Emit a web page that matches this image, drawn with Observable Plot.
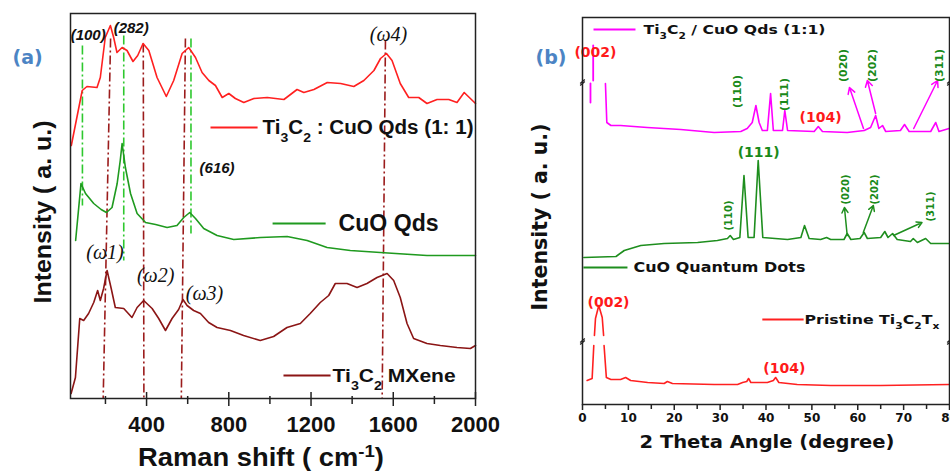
<!DOCTYPE html>
<html><head><meta charset="utf-8">
<script src="https://cdn.jsdelivr.net/npm/d3@7"></script>
<script src="https://cdn.jsdelivr.net/npm/@observablehq/plot@0.6"></script>
<style>
html,body{margin:0;padding:0;background:#fff;}
body{width:950px;height:473px;overflow:hidden;position:relative;}
#a{position:absolute;left:0;top:0;}
#b{position:absolute;left:480px;top:0;}
#a svg{overflow:visible;}
</style></head>
<body><div id="a"></div><div id="b"></div>
<script>
// ================= Panel (a): Raman spectra =================
const ramanTicksMajor = [400, 800, 1200, 1600, 2000];
const ramanTicksMinor = [200, 600, 1000, 1400, 1800];
// [Raman shift (cm-1), intensity (a.u., offset)]
const ramanComposite = [[34,253],[87,308],[110,312],[159,311],[175,321],[199,361],[224,373],[240,361],[256,346],[281,351],[305,348],[334,337],[357,343],[383,355],[411,348],[451,321],[496,302],[532,318],[573,345],[605,351],[638,341],[670,326],[703,318],[735,313],[768,301],[800,305],[832,300],[873,296],[922,300],[987,301],[1068,299],[1132,309],[1165,306],[1214,309],[1279,316],[1344,315],[1408,312],[1457,318],[1506,328],[1538,340],[1567,345],[1594,338],[1634,315],[1675,301],[1724,301],[1764,295],[1813,299],[1870,299],[1910,296],[1945,306],[1975,300],[2000,295]];
const ramanCuO = [[55,158],[81,215],[103,205],[143,195],[179,189],[205,186],[232,191],[257,215],[272,238],[281,255],[297,231],[322,205],[354,185],[395,176],[444,174],[500,171],[548,173],[581,181],[610,186],[638,180],[678,170],[743,163],[824,159],[954,161],[1084,162],[1181,158],[1278,151],[1391,148],[1537,146],[1764,143],[2000,143]];
const ramanTi3C2 = [[33,5],[54,21],[75,80],[94,78],[118,85],[143,96],[162,108],[175,98],[191,110],[208,128],[228,110],[248,91],[289,90],[329,81],[354,91],[386,98],[427,90],[459,80],[492,68],[524,80],[556,89],[577,99],[597,93],[629,88],[662,85],[702,76],[743,71],[808,68],[872,63],[953,58],[1018,62],[1083,71],[1148,75],[1196,85],[1245,96],[1286,103],[1318,115],[1375,115],[1424,111],[1472,115],[1521,121],[1570,125],[1602,118],[1634,101],[1667,75],[1699,60],[1764,55],[1829,53],[1910,51],[1975,50],[2000,53]];
// guide lines [x top, y top, x bottom, y bottom]
const guidesCuO = [[88,353,88,193],[289,363,289,138],[616,360,616,165]];
const guidesTi3C2 = [[225,360,189,0],[384,355,387,0],[589,360,569,0],[1562,358,1546,0]];
const peakLabelsA = [{text:"(100)",x:116,y:363},{text:"(282)",x:325,y:370},{text:"(616)",x:743,y:230}];
const modeLabelsA = [{text:"(ω1)",x:198,y:146},{text:"(ω2)",x:444,y:123},{text:"(ω3)",x:682,y:105},{text:"(ω4)",x:1577,y:364}];
const legendA = [
  {label:"Ti_3C_2 : CuO Qds (1: 1)", color:"#ff2020", x1:711, x2:940, y:271, tx:964, size:19.5},
  {label:"CuO Qds", color:"#1f9a1f", x1:1013, x2:1271, y:175, tx:1334, size:23},
  {label:"Ti_3C_2 MXene", color:"#8b1515", x1:1066, x2:1295, y:23, tx:1305, size:19}
];

// ================= Panel (b): XRD patterns =================
const xrdTicksMajor = [0,10,20,30,40,50,60,70,80];
const xrdTicksMinor = [5,15,25,35,45,55,65,75];
// [2 theta (deg), intensity (a.u., offset)]
const xrdComposite = [[5.0,321],[5.3,282],[6.2,279],[8.3,279],[14.1,277],[21.4,275],[28.7,272],[34.5,273],[35.9,276],[37.0,282],[37.8,299],[38.5,282],[39.2,274],[40.3,274],[41.0,311],[41.6,274],[43.6,274],[44.1,294],[44.7,274],[50.5,273],[51.4,278],[52.3,273],[57.7,272],[61.4,274],[62.8,277],[63.9,289],[64.6,276],[65.4,279],[66.1,273],[69.3,274],[70.2,280],[71.2,273],[75.9,273],[77.0,282],[77.7,273],[79.9,276]];
const xrdCompositeBrokenLow = [[1.74,321],[1.74,302]];
const xrdCompositeBrokenHigh = [[2.33,359],[2.33,324]];
const xrdCuO = [[0.3,147],[7.3,148],[9.1,154],[12.7,159],[17.8,161],[25.1,162],[29.4,164],[31.6,166],[32.2,169],[32.9,165],[34.3,167],[35.2,229],[36.1,167],[37.4,167],[38.3,244],[39.3,167],[44.7,165],[47.6,167],[48.4,179],[49.4,166],[51.9,165],[53.2,167],[54.1,165],[57.0,165],[57.7,171],[58.5,165],[60.5,166],[61.4,172],[62.1,166],[65.0,167],[65.9,173],[66.6,167],[67.6,171],[68.6,165],[71.5,163],[72.1,166],[73.0,162],[74.8,166],[75.9,161],[79.9,161]];
const xrdTi3C2Low = [[1.0,24],[2.1,26],[2.46,59]];
const xrdTi3C2Peak = [[2.6,69],[2.83,86],[3.55,99],[4.3,87],[4.6,69]];
const xrdTi3C2Rest = [[4.7,59],[5.2,27],[6.2,25],[8.3,25],[9.4,27],[10.5,24],[14.2,22],[17.8,21],[18.5,23],[19.6,21],[28.7,20],[33.8,20],[34.9,22],[35.8,23],[36.2,26],[36.7,22],[40.3,22],[41.6,24],[42.1,27],[42.8,22],[46.8,20],[54.1,19],[65.0,19],[79.9,20]];
const axisBreaksB = [322, 63];
const axisBreakSides = [0, 80];
const hklCompositeRot = [{text:"(110)",x:33.8,y:313},{text:"(111)",x:44.0,y:310},{text:"(020)",x:56.9,y:339},{text:"(202)",x:63.2,y:339},{text:"(311)",x:77.8,y:339}];
const hklCuORot = [{text:"(110)",x:31.8,y:189},{text:"(020)",x:57.3,y:215},{text:"(202)",x:63.7,y:215},{text:"(311)",x:75.9,y:198}];
const arrowsComposite = [[61.25,276,58.2,317],[63.9,291,62.1,324],[72.2,276,77.4,324]];
const arrowsCuO = [[57.7,169,57.1,197],[61.2,172,63.4,199],[67.8,169,74.0,182]];
const redLabelsB = [{text:"(002)",x:2.83,y:352,anchor:"start"},{text:"(104)",x:51.9,y:287,anchor:"middle"},{text:"(002)",x:5.67,y:102,anchor:"start"},{text:"(104)",x:44.0,y:36,anchor:"middle"}];
const legendB = [
  {label:"Ti_3C_2 / CuO Qds (1:1)", color:"#ff00ff", x1:2.4, x2:11.55, y:375, tx:13.3, size:13},
  {label:"CuO Quantum Dots", color:"#1e8e1e", x1:0.2, x2:9.8, y:137, tx:11.1, size:14.5},
  {label:"Pristine Ti_3C_2T_x", color:"#ff2020", x1:39.2, x2:48.2, y:85, tx:48.4, size:13}
];

// ---------------- helpers ----------------
const fA = "'Liberation Sans', Arial, sans-serif";
const fB = "'DejaVu Sans', Verdana, sans-serif";
const fSerif = "'Liberation Serif', 'Times New Roman', serif";
const X = d => d[0], Y = d => d[1];

function richText(svg, fit) {
  svg.querySelectorAll("text").forEach(t => {
    if (t.querySelector("tspan")) return;
    const s = t.textContent;
    if (/[_^]/.test(s)) {
      while (t.firstChild) t.removeChild(t.firstChild);
      const re = /([_^])(\{[^}]*\}|.)/g;
      let last = 0, m;
      const add = (txt, mode) => {
        const ts = document.createElementNS("http://www.w3.org/2000/svg", "tspan");
        ts.textContent = txt;
        if (mode) {
          ts.setAttribute("baseline-shift", mode === "_" ? "sub" : "super");
          ts.style.fontSize = "68%";
        }
        t.appendChild(ts);
      };
      while ((m = re.exec(s))) {
        if (m.index > last) add(s.slice(last, m.index));
        let v = m[2]; if (v[0] === "{") v = v.slice(1, -1);
        add(v, m[1]);
        last = re.lastIndex;
      }
      if (last < s.length) add(s.slice(last));
    }
    if (fit[s]) {
      t.setAttribute("textLength", fit[s]);
      t.setAttribute("lengthAdjust", "spacingAndGlyphs");
    }
  });
}

// ---------------- Panel (a) ----------------
const plotA = Plot.plot({
  width: 480, height: 473,
  marginLeft: 70, marginRight: 5, marginTop: 13, marginBottom: 75,
  x: {domain: [30, 2000]},
  y: {domain: [0, 385], axis: null},
  style: {fontFamily: fA, fontWeight: "bold", background: "transparent", color: "#111"},
  marks: [
    Plot.link(guidesCuO, {x1: d=>d[0], y1: d=>d[1], x2: d=>d[2], y2: d=>d[3], stroke: "#2ec82e", strokeWidth: 1.6, strokeDasharray: "9,3,2,3"}),
    Plot.link(guidesTi3C2, {x1: d=>d[0], y1: d=>d[1], x2: d=>d[2], y2: d=>d[3], stroke: "#9b1c1c", strokeWidth: 1.6, strokeDasharray: "9,3,2,3"}),
    Plot.line(ramanTi3C2, {x: X, y: Y, stroke: "#8b1515", strokeWidth: 1.6}),
    Plot.line(ramanCuO, {x: X, y: Y, stroke: "#1f9a1f", strokeWidth: 1.6}),
    Plot.line(ramanComposite, {x: X, y: Y, stroke: "#ff2020", strokeWidth: 1.6}),
    Plot.text(peakLabelsA, {x: "x", y: "y", text: "text", fontSize: 15, fontStyle: "italic", fill: "#111"}),
    Plot.text(modeLabelsA, {x: "x", y: "y", text: "text", fontSize: 20, fontStyle: "italic", fontWeight: "normal", fontFamily: fSerif, fill: "#111"}),
    Plot.link(legendA, {x1: "x1", x2: "x2", y1: "y", y2: "y", stroke: "color", strokeWidth: 1.8}),
    Plot.text(legendA, {x: "tx", y: "y", text: "label", textAnchor: "start", fontSize: d => d.size, fill: "#111"}),
    Plot.frame({stroke: "#222", strokeWidth: 1.5}),
    Plot.ruleX(ramanTicksMajor, {x: d => d, y1: -8, y2: 6, stroke: "#222", strokeWidth: 1.5}),
    Plot.ruleX(ramanTicksMinor, {x: d => d, y1: -6, y2: 2, stroke: "#222", strokeWidth: 1.5}),
    Plot.axisX({ticks: ramanTicksMajor, tickSize: 0, tickPadding: 18, tickFormat: d => String(d), fontSize: 22, label: null}),
    Plot.text(["Raman shift ( cm^{-1})"], {frameAnchor: "bottom", dx: -12, dy: 67, text: d => d, fontSize: 25, fill: "#111"}),
    Plot.text(["Intensity ( a. u.)"], {frameAnchor: "left", textAnchor: "middle", rotate: -90, dx: -27, dy: 6, text: d => d, fontSize: 23, fill: "#111"}),
    Plot.text(["(a)"], {frameAnchor: "top-left", dx: -58, dy: 37, text: d => d, fontSize: 19, fill: "#4c84c4", fontFamily: fB})
  ]
});
richText(plotA, {"Ti_3C_2 : CuO Qds (1: 1)": 211, "CuO Qds": 100, "Ti_3C_2 MXene": 123, "Raman shift ( cm^{-1})": 246, "Intensity ( a. u.)": 183});
document.getElementById("a").appendChild(plotA);

// ---------------- Panel (b) ----------------
const breakMarks = axisBreakSides.flatMap(x => axisBreaksB.map(y => ({x, y})));
const plotB = Plot.plot({
  width: 470, height: 473,
  marginLeft: 102, marginRight: 1, marginTop: 17, marginBottom: 69,
  x: {domain: [0, 80]},
  y: {domain: [0, 387], axis: null},
  style: {fontFamily: fB, fontWeight: "bold", background: "transparent", color: "#111"},
  marks: [
    Plot.line(xrdTi3C2Low, {x: X, y: Y, stroke: "#ff2020", strokeWidth: 1.6}),
    Plot.line(xrdTi3C2Peak, {x: X, y: Y, stroke: "#ff2020", strokeWidth: 1.6}),
    Plot.line(xrdTi3C2Rest, {x: X, y: Y, stroke: "#ff2020", strokeWidth: 1.6}),
    Plot.line(xrdCuO, {x: X, y: Y, stroke: "#1e8e1e", strokeWidth: 1.6}),
    Plot.line(xrdCompositeBrokenLow, {x: X, y: Y, stroke: "#ff00ff", strokeWidth: 1.8}),
    Plot.line(xrdCompositeBrokenHigh, {x: X, y: Y, stroke: "#ff00ff", strokeWidth: 1.8}),
    Plot.line(xrdComposite, {x: X, y: Y, stroke: "#ff00ff", strokeWidth: 1.6}),
    Plot.arrow(arrowsComposite, {x1: d=>d[0], y1: d=>d[1], x2: d=>d[2], y2: d=>d[3], stroke: "#ff00ff", strokeWidth: 1.5, headLength: 7}),
    Plot.arrow(arrowsCuO, {x1: d=>d[0], y1: d=>d[1], x2: d=>d[2], y2: d=>d[3], stroke: "#1e8e1e", strokeWidth: 1.5, headLength: 6}),
    Plot.text(hklCompositeRot, {x: "x", y: "y", text: "text", rotate: -90, fontSize: 11, fill: "#1a8a1a"}),
    Plot.text(hklCuORot, {x: "x", y: "y", text: "text", rotate: -90, fontSize: 10, fill: "#1a8a1a"}),
    Plot.text(["(111)"], {x: 38.4, y: 252, text: d => d, fontSize: 14, fill: "#1a8a1a"}),
    Plot.text(redLabelsB, {x: "x", y: "y", text: "text", textAnchor: "anchor", fontSize: 14, fill: "#ff1a1a"}),
    Plot.link(legendB, {x1: "x1", x2: "x2", y1: "y", y2: "y", stroke: "color", strokeWidth: 1.8}),
    Plot.text(legendB, {x: "tx", y: "y", text: "label", textAnchor: "start", fontSize: d => d.size, fill: "#111"}),
    Plot.frame({stroke: "#222", strokeWidth: 1.5}),
    Plot.link(breakMarks, {x1: d => d.x - 0.5, x2: d => d.x + 0.5, y1: d => d.y - 3, y2: d => d.y + 1, stroke: "#222", strokeWidth: 1.3}),
    Plot.link(breakMarks, {x1: d => d.x - 0.5, x2: d => d.x + 0.5, y1: d => d.y - 1, y2: d => d.y + 3, stroke: "#222", strokeWidth: 1.3}),
    Plot.ruleX(xrdTicksMajor, {x: d => d, y1: -6, y2: 0, stroke: "#222", strokeWidth: 1.5}),
    Plot.ruleX(xrdTicksMinor, {x: d => d, y1: -5, y2: 0, stroke: "#222", strokeWidth: 1.5}),
    Plot.axisX({ticks: xrdTicksMajor, tickSize: 0, tickPadding: 9, tickFormat: d => String(d), fontSize: 12, label: null}),
    Plot.text(["2 Theta Angle (degree)"], {frameAnchor: "bottom", dx: 1, dy: 43, text: d => d, fontSize: 18, fill: "#111"}),
    Plot.text(["Intensity ( a. u.)"], {frameAnchor: "left", textAnchor: "middle", rotate: -90, dx: -42, dy: 6, text: d => d, fontSize: 20.5, fill: "#111"}),
    Plot.text(["(b)"], {frameAnchor: "top-left", dx: -47, dy: 33, text: d => d, fontSize: 19, fill: "#4c84c4"})
  ]
});
richText(plotB, {"Ti_3C_2 / CuO Qds (1:1)": 182, "CuO Quantum Dots": 172, "Pristine Ti_3C_2T_x": 135, "2 Theta Angle (degree)": 255, "Intensity ( a. u.)": 187});
document.getElementById("b").appendChild(plotB);
</script>
</body></html>
